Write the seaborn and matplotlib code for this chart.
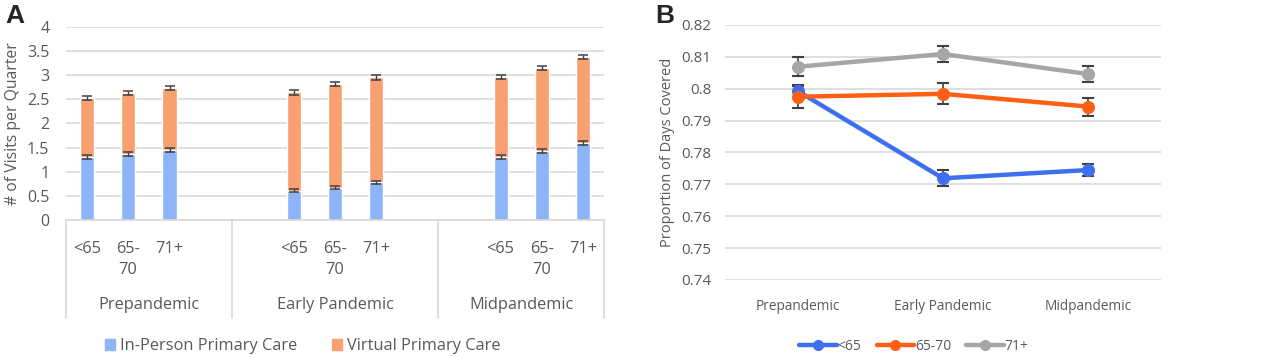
import numpy as np
import pandas as pd
import matplotlib.pyplot as plt
import seaborn as sns
from matplotlib.lines import Line2D
from matplotlib.patches import Patch

periods = ['Prepandemic', 'Early Pandemic', 'Midpandemic']
ages = ['<65', '65-70', '71+']
age_ticks = ['<65', '65-\n70', '71+']

# panel A: visits per quarter
inperson = [1.30, 1.37, 1.45, 0.61, 0.67, 0.78, 1.31, 1.43, 1.59]
virtual = [1.22, 1.26, 1.28, 2.04, 2.15, 2.18, 1.65, 1.72, 1.79]
inperson_err = [0.04, 0.04, 0.04, 0.03, 0.03, 0.03, 0.04, 0.04, 0.04]
total_err = [0.04, 0.04, 0.04, 0.05, 0.05, 0.05, 0.04, 0.04, 0.04]

# panel B: proportion of days covered
pdc = {
    '<65': [0.7993, 0.7719, 0.7745],
    '65-70': [0.7975, 0.7984, 0.7944],
    '71+': [0.8069, 0.8109, 0.8046],
}
pdc_err = {
    '<65': [0.0020, 0.0025, 0.0020],
    '65-70': [0.0035, 0.0033, 0.0028],
    '71+': [0.0030, 0.0025, 0.0025],
}

blue_bar = '#8DB4F7'
orange_bar = '#F9A070'
line_cols = {'<65': '#3D6FF0', '65-70': '#FF5F14', '71+': '#A6A6A6'}
txt = '#595959'
grid = '#D9D9D9'

sns.set_theme(style='white')
plt.rcParams['font.family'] = ['Open Sans', 'DejaVu Sans']

fig = plt.figure(figsize=(12.8, 3.57), dpi=100)
axA = fig.add_axes([0.0516, 0.3838, 0.4203, 0.5406])
axB = fig.add_axes([0.5664, 0.2157, 0.3406, 0.7143])

# ---- panel A ----
rows = []
for i, p in enumerate(periods):
    for j, a in enumerate(ages):
        k = i * 3 + j
        rows.append({'slot': p + '|' + a, 'inperson': inperson[k],
                     'total': inperson[k] + virtual[k]})
dfA = pd.DataFrame(rows)

# excel-style layout with empty slots between the groups
order = []
for i, p in enumerate(periods):
    if i > 0:
        order.append('gap%da' % i)
    order += [p + '|' + a for a in ages]
    if i < len(periods) - 1:
        order.append('gap%db' % i)

sns.barplot(data=dfA, x='slot', y='total', order=order, color=orange_bar,
            width=0.34, saturation=1, ax=axA, errorbar=None)
sns.barplot(data=dfA, x='slot', y='inperson', order=order, color=blue_bar,
            width=0.34, saturation=1, ax=axA, errorbar=None)

xpos = [order.index(s) for s in dfA['slot']]
axA.errorbar(xpos, dfA['inperson'], yerr=inperson_err, fmt='none',
             ecolor='#404040', elinewidth=1.0, capsize=3.6, capthick=1.1, zorder=5)
axA.errorbar(xpos, dfA['total'], yerr=total_err, fmt='none',
             ecolor='#404040', elinewidth=1.0, capsize=3.6, capthick=1.1, zorder=5)

axA.set_ylim(0, 4)
axA.set_xlim(-0.5, len(order) - 0.5)
axA.set_yticks(np.arange(0, 4.01, 0.5))
axA.set_yticklabels(['0', '0.5', '1', '1.5', '2', '2.5', '3', '3.5', '4'])
axA.yaxis.grid(True, color=grid, linewidth=1.2)
axA.set_axisbelow(True)
axA.set_xticks(xpos)
axA.set_xticklabels(age_ticks * 3, va='top', linespacing=1.45)
axA.tick_params(axis='x', length=0, pad=15, labelsize=11.8, labelcolor=txt)
axA.tick_params(axis='y', length=0, pad=12, labelsize=11.5, labelcolor=txt)
axA.set_xlabel('')
axA.set_ylabel('# of Visits per Quarter', fontsize=11.3, color=txt, labelpad=4)
for s in ['top', 'right', 'left']:
    axA.spines[s].set_visible(False)
axA.spines['bottom'].set_color(grid)
axA.spines['bottom'].set_linewidth(1.2)

tr = axA.get_xaxis_transform()
bounds = [-0.5, 3.5, 8.5, len(order) - 0.5]
for b in bounds:
    axA.add_line(Line2D([b, b], [0, -0.51], transform=tr, color=grid,
                        linewidth=1.2, clip_on=False))
for i, p in enumerate(periods):
    axA.text((bounds[i] + bounds[i + 1]) / 2, -0.44, p, transform=tr,
             ha='center', va='center', fontsize=11.8, color=txt)

handlesA = [Patch(color=blue_bar, label='In-Person Primary Care'),
            Patch(color=orange_bar, label='Virtual Primary Care')]
fig.legend(handles=handlesA, loc='center', bbox_to_anchor=(0.2365, 0.03),
           ncol=2, frameon=False, fontsize=11.8, handlelength=0.6,
           handleheight=0.6, handletextpad=0.3, columnspacing=2.1,
           labelcolor=txt)

# ---- panel B ----
dfB = pd.DataFrame([{'period': p, 'age': a, 'pdc': pdc[a][i]}
                    for a in ages for i, p in enumerate(periods)])
sns.pointplot(data=dfB, x='period', y='pdc', hue='age', order=periods,
              hue_order=ages, palette=line_cols, markers='o', markersize=7,
              linewidth=3.2, errorbar=None, ax=axB, legend=False)
for a in ages:
    axB.errorbar(range(len(periods)), pdc[a], yerr=pdc_err[a], fmt='none',
                 ecolor='#404040', elinewidth=1.2, capsize=4, capthick=1.5,
                 zorder=1)

axB.set_ylim(0.74, 0.82)
axB.set_xlim(-0.5, 2.5)
axB.set_yticks(np.arange(0.74, 0.8201, 0.01))
axB.set_yticklabels(['0.74', '0.75', '0.76', '0.77', '0.78', '0.79', '0.8',
                     '0.81', '0.82'])
axB.yaxis.grid(True, color=grid, linewidth=1.2)
axB.set_axisbelow(True)
axB.tick_params(axis='x', length=0, pad=14, labelsize=9.8, labelcolor=txt)
axB.tick_params(axis='y', length=0, pad=10, labelsize=11, labelcolor=txt)
axB.set_xlabel('')
axB.set_ylabel('Proportion of Days Covered', fontsize=10.5, color=txt,
               labelpad=4)
for s in ['top', 'right', 'left', 'bottom']:
    axB.spines[s].set_visible(False)

handlesB = [Line2D([0], [0], color=line_cols[a], linewidth=3.2, marker='o',
                   markersize=7, label=a) for a in ages]
fig.legend(handles=handlesB, loc='center', bbox_to_anchor=(0.714, 0.03),
           ncol=3, frameon=False, fontsize=10, handlelength=2.7,
           handletextpad=0.05, columnspacing=1.1, labelcolor=txt)

fig.text(0.004, 0.99, 'A', fontsize=19, fontweight='bold', va='top',
         family=['Liberation Sans', 'DejaVu Sans'])
fig.text(0.512, 0.99, 'B', fontsize=19, fontweight='bold', va='top',
         family=['Liberation Sans', 'DejaVu Sans'])

fig.savefig('out.png', dpi=100)
